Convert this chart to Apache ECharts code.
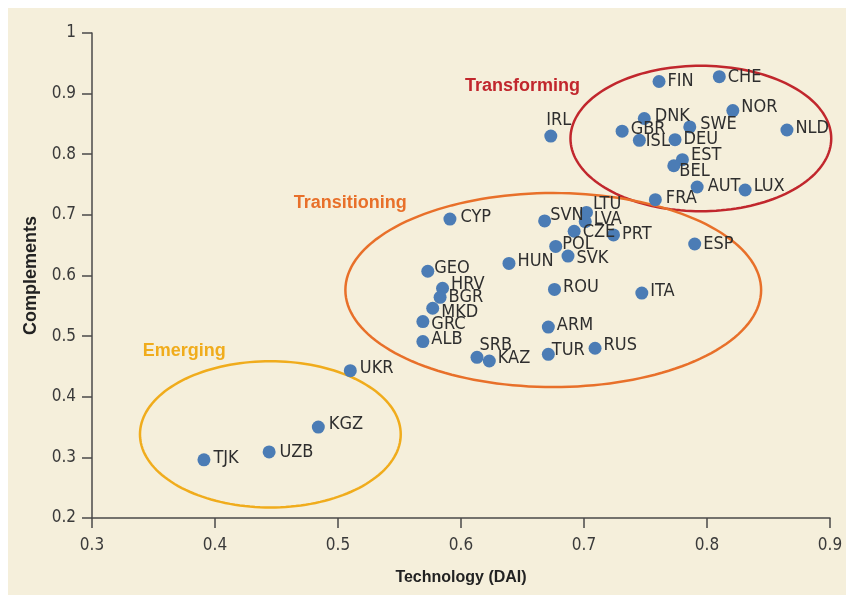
<!DOCTYPE html>
<html>
<head>
<meta charset="utf-8">
<script src="https://cdn.jsdelivr.net/npm/echarts@6/dist/echarts.min.js"></script>
<style>
  html, body { margin: 0; padding: 0; background: #ffffff; }
  #chart { width: 846px; height: 595px; }
</style>
</head>
<body>
<div id="chart"></div>
<script>
// country codes, DAI technology score (x) and complements score (y)
var countries = ['FIN', 'CHE', 'NOR', 'NLD', 'DNK', 'SWE', 'GBR', 'ISL', 'DEU', 'IRL',
  'EST', 'BEL', 'AUT', 'LUX', 'FRA', 'CYP', 'SVN', 'LTU', 'LVA', 'CZE',
  'PRT', 'POL', 'SVK', 'ESP', 'HUN', 'GEO', 'HRV', 'BGR', 'MKD', 'GRC',
  'ALB', 'ROU', 'ITA', 'ARM', 'RUS', 'TUR', 'SRB', 'KAZ', 'UKR', 'KGZ',
  'UZB', 'TJK'];
var technology = [0.761, 0.810, 0.821, 0.865, 0.749, 0.786, 0.731, 0.745, 0.774, 0.673,
  0.780, 0.773, 0.792, 0.831, 0.758, 0.591, 0.668, 0.702, 0.701, 0.692,
  0.724, 0.677, 0.687, 0.790, 0.639, 0.573, 0.585, 0.583, 0.577, 0.569,
  0.569, 0.676, 0.747, 0.671, 0.709, 0.671, 0.613, 0.623, 0.510, 0.484,
  0.444, 0.391];
var complements = [0.920, 0.928, 0.872, 0.840, 0.859, 0.845, 0.838, 0.823, 0.824, 0.830,
  0.791, 0.781, 0.746, 0.741, 0.725, 0.693, 0.690, 0.704, 0.689, 0.673,
  0.667, 0.648, 0.632, 0.652, 0.620, 0.607, 0.579, 0.564, 0.546, 0.524,
  0.491, 0.577, 0.571, 0.515, 0.480, 0.470, 0.465, 0.459, 0.443, 0.350,
  0.309, 0.296];

// groups drawn as ellipses (centre and radii in axis units) with their titles
var groupNames = ['Transforming', 'Transitioning', 'Emerging'];
var groupCx = [0.795, 0.675, 0.445];
var groupCy = [0.826, 0.576, 0.338];
var groupRx = [0.106, 0.169, 0.106];
var groupRy = [0.120, 0.160, 0.1206];
var groupLabelX = [0.650, 0.510, 0.375];
var groupLabelY = [0.912, 0.720, 0.476];
var groupColors = ['#c1272d', '#e8702a', '#f0ac1c'];

var xTicks = { min: 0.3, max: 0.9, step: 0.1 };
var yTicks = { min: 0.2, max: 1, step: 0.1 };

// small nudges of country labels so they sit like in the original
var labelNudge = {
  FIN: [0, 0], CHE: [0, 1], NOR: [0, -3], NLD: [0, -2], DNK: [2, -2], SWE: [2, -3],
  GBR: [0, -2], ISL: [-2, 1], DEU: [0, 0], EST: [0, -4], BEL: [-3, 6], AUT: [2, -1],
  LUX: [0, -4], FRA: [2, -1], CYP: [2, -2], SVN: [-3, -6], LTU: [-2, -8], LVA: [0, -2],
  CZE: [0, 1], PRT: [0, -1], POL: [-2, -2], SVK: [0, 2], ESP: [0, 0], HUN: [0, -2],
  GEO: [-2, -3], HRV: [0, -4], BGR: [0, 0], MKD: [0, 4], GRC: [0, 3], ALB: [0, -2],
  ROU: [0, -2], ITA: [0, -2], ARM: [0, -2], RUS: [0, -3], TUR: [-5, -4], SRB: [-6, -12],
  KAZ: [0, -3], UKR: [1, -2], KGZ: [2, -3], UZB: [2, 0], TJK: [1, -1],
  IRL: [-13, -16]
};

var font = "'DejaVu Sans Condensed', 'Liberation Sans', sans-serif";
var boldFont = "'Liberation Sans', Arial, sans-serif";

var points = countries.map(function (c, i) {
  return {
    name: c,
    value: [technology[i], complements[i]],
    label: { offset: labelNudge[c] || [0, -1] }
  };
});

var groups = groupNames.map(function (g, i) {
  return [groupCx[i], groupCy[i], groupRx[i], groupRy[i], groupLabelX[i], groupLabelY[i]];
});

function tickText(v) {
  return String(Math.round(v * 10) / 10);
}

var axisBase = {
  type: 'value',
  nameLocation: 'middle',
  nameTextStyle: { fontFamily: boldFont, fontWeight: 'bold', fontSize: 16, color: '#222' },
  splitLine: { show: false },
  axisLine: { show: true, onZero: false, lineStyle: { color: '#4a4a4a', width: 1.5 } },
  axisTick: { show: true, inside: false, length: 10, lineStyle: { color: '#4a4a4a', width: 1.5 } },
  axisLabel: { fontFamily: font, fontSize: 17, color: '#3a3a3a', formatter: tickText }
};

var myChart = echarts.init(document.getElementById('chart'));
var option = {
  backgroundColor: '#ffffff',
  animation: false,
  graphic: [{
    type: 'rect', left: 8, top: 8, z: -10,
    shape: { width: 838, height: 587 },
    style: { fill: '#f5efdb' }
  }],
  grid: { left: 92, right: 16, top: 33, bottom: 77, outerBoundsMode: 'none', containLabel: false },
  xAxis: Object.assign({}, axisBase, {
    name: 'Technology (DAI)', nameGap: 52,
    min: xTicks.min, max: xTicks.max, interval: xTicks.step,
    axisLabel: Object.assign({}, axisBase.axisLabel, { margin: 19 })
  }),
  yAxis: Object.assign({}, axisBase, {
    name: 'Complements', nameGap: 52, nameRotate: 90,
    nameTextStyle: Object.assign({}, axisBase.nameTextStyle, { fontSize: 18 }),
    min: yTicks.min, max: yTicks.max, interval: yTicks.step,
    axisLabel: Object.assign({}, axisBase.axisLabel, { margin: 16 })
  }),
  series: [
    {
      type: 'custom',
      silent: true,
      clip: false,
      z: 1,
      data: groups,
      renderItem: function (params, api) {
        var i = params.dataIndex;
        var cx = api.value(0), cy = api.value(1), rx = api.value(2), ry = api.value(3);
        var pts = [];
        for (var k = 0; k <= 160; k++) {
          var t = k / 160 * Math.PI * 2;
          pts.push(api.coord([cx + rx * Math.cos(t), cy + ry * Math.sin(t)]));
        }
        var lp = api.coord([api.value(4), api.value(5)]);
        return {
          type: 'group',
          children: [
            {
              type: 'polygon',
              shape: { points: pts },
              style: { fill: 'none', stroke: groupColors[i], lineWidth: 2.5 }
            },
            {
              type: 'text',
              x: lp[0], y: lp[1],
              style: {
                text: groupNames[i],
                fill: groupColors[i],
                font: 'bold 18px ' + boldFont,
                align: 'center',
                verticalAlign: 'middle'
              }
            }
          ]
        };
      }
    },
    {
      type: 'scatter',
      z: 3,
      symbol: 'circle',
      symbolSize: 13,
      itemStyle: { color: '#4b7cb5', opacity: 1 },
      label: {
        show: true,
        position: 'right',
        distance: 2,
        formatter: '{b}',
        fontFamily: font,
        fontSize: 18,
        color: '#2e2e2e'
      },
      emphasis: { disabled: true },
      data: points
    }
  ]
};
myChart.setOption(option);
</script>
</body>
</html>
